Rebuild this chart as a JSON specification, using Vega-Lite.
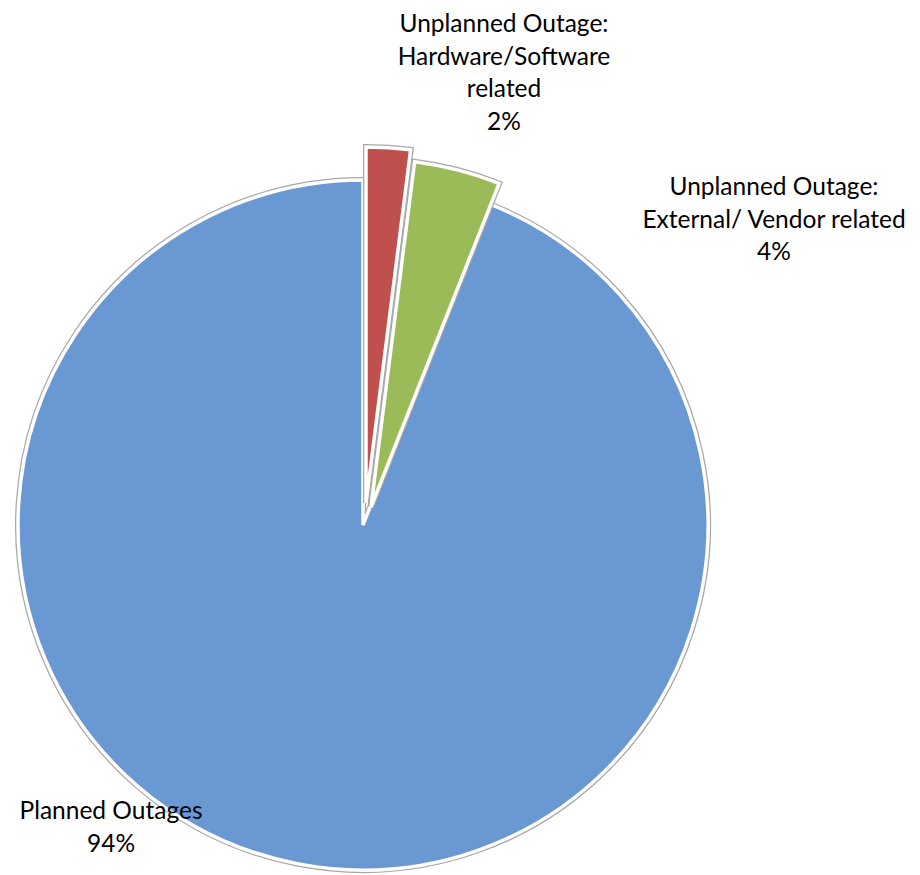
{
  "$schema": "https://vega.github.io/schema/vega-lite/v6.json",
  "autosize": {"type": "none"},
  "width": 726,
  "height": 690,
  "padding": {"top": 180, "left": 0, "right": 194, "bottom": 5},
  "background": "white",
  "config": {"view": {"stroke": null}},
  "data": {
    "values": [
      {"category": "Unplanned Outage: Hardware/Software related", "pct": 2, "label": "Unplanned Outage:\nHardware/Software\nrelated\n2%"},
      {"category": "Unplanned Outage: External/ Vendor related", "pct": 4, "label": "Unplanned Outage:\nExternal/ Vendor related\n4%"},
      {"category": "Planned Outages", "pct": 94, "label": "Planned Outages\n94%"}
    ]
  },
  "transform": [
    {"stack": "pct", "groupby": [], "sort": [{"field": "pct", "order": "ascending"}], "as": ["t0", "t1"]}
  ],
  "encoding": {
    "theta": {"field": "t0", "type": "quantitative", "scale": {"domain": [0, 100]}},
    "theta2": {"field": "t1"},
    "color": {
      "field": "category",
      "type": "nominal",
      "legend": null,
      "scale": {
        "domain": ["Unplanned Outage: Hardware/Software related", "Unplanned Outage: External/ Vendor related", "Planned Outages"],
        "range": ["#c0504d", "#9bbb59", "#6a98d2"]
      }
    }
  },
  "layer": [
    {
      "transform": [{"filter": "datum.category === 'Planned Outages'"}],
      "mark": {"type": "arc", "outerRadius": 345, "stroke": "#a8a8a8", "strokeWidth": 6, "strokeJoin": "miter"}
    },
    {
      "transform": [{"filter": "datum.category === 'Planned Outages'"}],
      "mark": {"type": "arc", "outerRadius": 345, "stroke": "white", "strokeWidth": 3.5, "strokeJoin": "miter"}
    },
    {
      "transform": [{"filter": "datum.category === 'Unplanned Outage: Hardware/Software related'"}],
      "mark": {"type": "arc", "outerRadius": 356, "x": {"expr": "width/2 + 3"}, "y": {"expr": "height/2 - 22"}, "stroke": "#a8a8a8", "strokeWidth": 6, "strokeJoin": "miter"}
    },
    {
      "transform": [{"filter": "datum.category === 'Unplanned Outage: Hardware/Software related'"}],
      "mark": {"type": "arc", "outerRadius": 356, "x": {"expr": "width/2 + 3"}, "y": {"expr": "height/2 - 22"}, "stroke": "white", "strokeWidth": 3.5, "strokeJoin": "miter"}
    },
    {
      "transform": [{"filter": "datum.category === 'Unplanned Outage: External/ Vendor related'"}],
      "mark": {"type": "arc", "outerRadius": 348, "x": {"expr": "width/2 + 8"}, "y": {"expr": "height/2 - 18"}, "stroke": "#a8a8a8", "strokeWidth": 6, "strokeJoin": "miter"}
    },
    {
      "transform": [{"filter": "datum.category === 'Unplanned Outage: External/ Vendor related'"}],
      "mark": {"type": "arc", "outerRadius": 348, "x": {"expr": "width/2 + 8"}, "y": {"expr": "height/2 - 18"}, "stroke": "white", "strokeWidth": 3.5, "strokeJoin": "miter"}
    },
    {
      "transform": [{"filter": "datum.category === 'Unplanned Outage: Hardware/Software related'"}],
      "mark": {"type": "text", "font": "Lato", "fontSize": 24.5, "lineHeight": 32.7, "lineBreak": "\n", "align": "center", "baseline": "middle", "dx": 141, "dy": -500},
      "encoding": {"text": {"field": "label"}, "color": {"value": "#000000"}, "theta": null, "theta2": null}
    },
    {
      "transform": [{"filter": "datum.category === 'Unplanned Outage: External/ Vendor related'"}],
      "mark": {"type": "text", "font": "Lato", "fontSize": 24.5, "lineHeight": 32.7, "lineBreak": "\n", "align": "center", "baseline": "middle", "dx": 411, "dy": -337},
      "encoding": {"text": {"field": "label"}, "color": {"value": "#000000"}, "theta": null, "theta2": null}
    },
    {
      "transform": [{"filter": "datum.category === 'Planned Outages'"}],
      "mark": {"type": "text", "font": "Lato", "fontSize": 24.5, "lineHeight": 32.7, "lineBreak": "\n", "align": "center", "baseline": "middle", "dx": -252, "dy": 287},
      "encoding": {"text": {"field": "label"}, "color": {"value": "#000000"}, "theta": null, "theta2": null}
    }
  ]
}
